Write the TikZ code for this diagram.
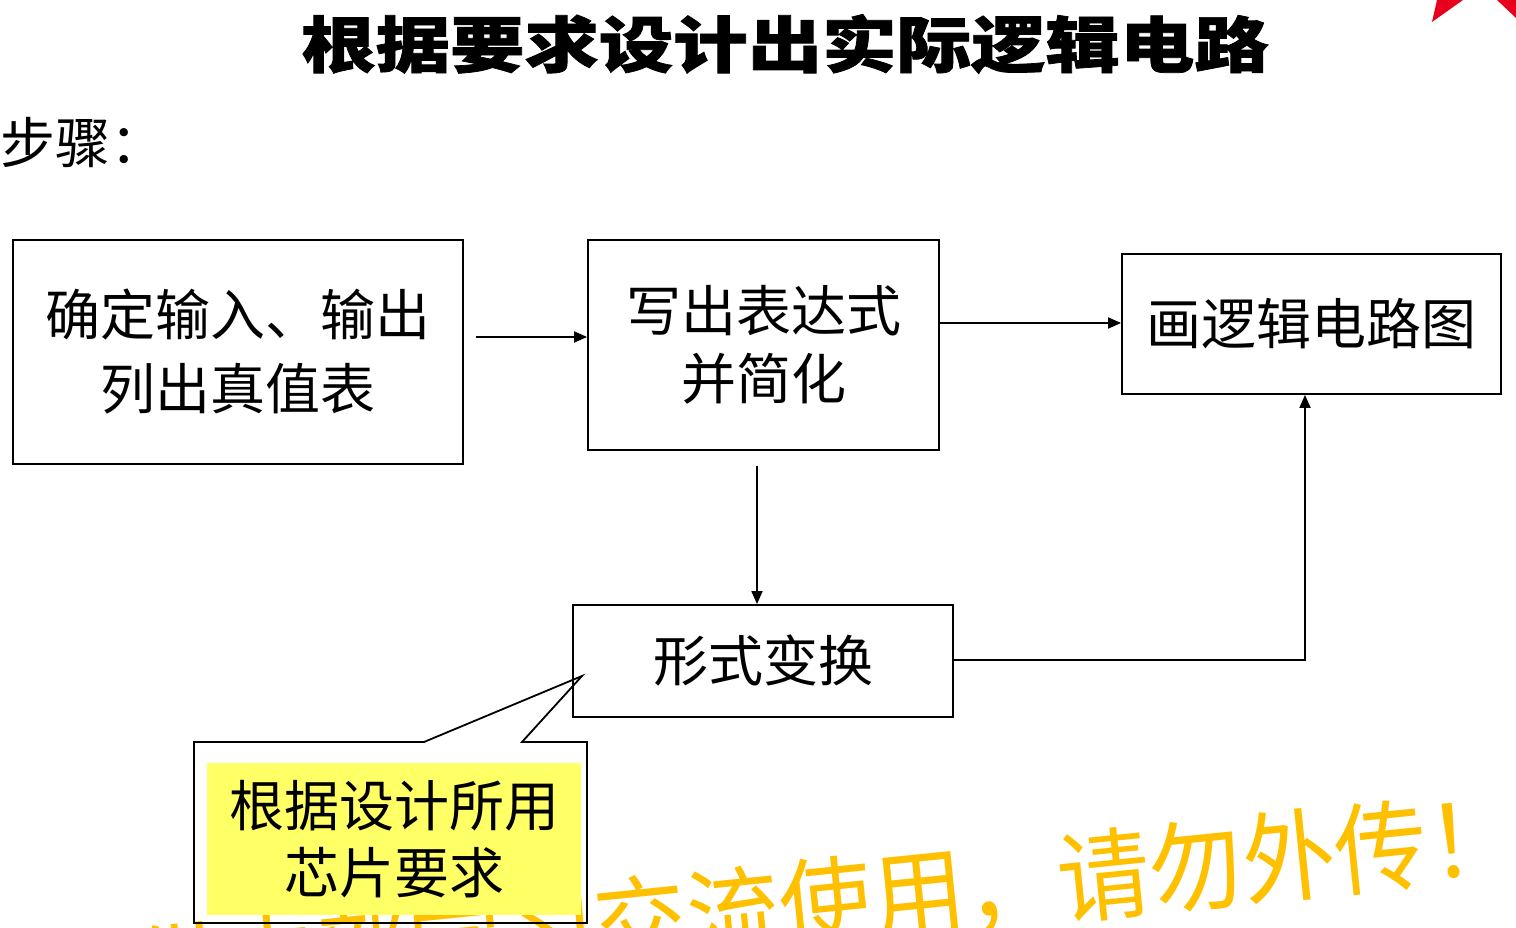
\documentclass[tikz,border=0pt]{standalone}
\usepackage{fontspec}
\setmainfont{Liberation Serif}
\newfontfamily\cjk{Noto Sans CJK SC}[BoldFeatures={FakeBold=1.2}]
\usetikzlibrary{arrows.meta,calc}
\definecolor{wm}{HTML}{FFC000}
\definecolor{callyellow}{HTML}{FFFF66}
\definecolor{logored}{HTML}{E8001C}
\tikzset{
  box/.style={draw=black, line width=1.8pt, rectangle, inner sep=0pt, align=center},
  boxfont/.style={font=\cjk\fontsize{55}{#1}\selectfont},
  arr/.style={line width=1.8pt, -{Triangle[length=13pt,width=11pt]}},
  outline/.style={line width=1.8pt, line join=miter},
}
\begin{document}
\begin{tikzpicture}[x=1pt,y=-1pt]
\useasboundingbox (0,0) rectangle (1516,928);

% logo corner
\fill[logored] (1437,0) -- (1463,0) -- (1432,22) -- cycle;
\fill[logored] (1497,0) -- (1516,0) -- (1516,18) -- cycle;

% title
\node[inner sep=0pt, xscale=1.22, font=\cjk\bfseries\fontsize{61}{61}\selectfont] (title) at (785,44) {根据要求设计出实际逻辑电路};
\node[anchor=west, inner sep=0pt, boxfont=55] (steps) at (0,143) {步骤：};

% watermark
\begin{scope}
  \clip (0,0) rectangle (1516,928);
  \node[text=wm, inner sep=0pt, rotate=5.8, xscale=0.93, font=\cjk\fontsize{100}{100}\selectfont] (wmark) at (780,909) {仅供内部学习交流使用，请勿外传！};
\end{scope}

% boxes
\node[box, boxfont=74, minimum width=450, minimum height=224] (b1) at (238,352) {确定输入、输出\\列出真值表};
\node[box, boxfont=68, minimum width=351, minimum height=210] (b2) at (763.5,345) {写出表达式\\并简化};
\node[box, boxfont=60, minimum width=379, minimum height=140] (b3) at (1311.5,324) {画逻辑电路图};
\node[box, boxfont=60, minimum width=380, minimum height=112] (b4) at (763,661) {形式变换};

% connectors
\draw[arr] ([xshift=12pt,yshift=15pt]b1.east) -- ([yshift=8pt]b2.west);
\draw[arr] ([yshift=22pt]b2.east) -- ([yshift=22pt]b2.east -| b3.west);
\draw[arr] ([xshift=-6.5pt,yshift=-15pt]b2.south) -- ([xshift=-6pt]b4.north);
\draw[arr] ([yshift=1pt]b4.east) -| ([xshift=-6.5pt]b3.south);

% callout
\coordinate (tip) at (582,676);
\draw[outline] (424,742) -- (tip) -- (522,742) -- (587,742) -- (587,923) -- (194,923) -- (194,742) -- cycle;
\node[fill=callyellow, inner sep=0pt, align=center, minimum width=374, minimum height=152, boxfont=67] (note) at (394,839) {根据设计所用\\芯片要求};
\end{tikzpicture}
\end{document}
